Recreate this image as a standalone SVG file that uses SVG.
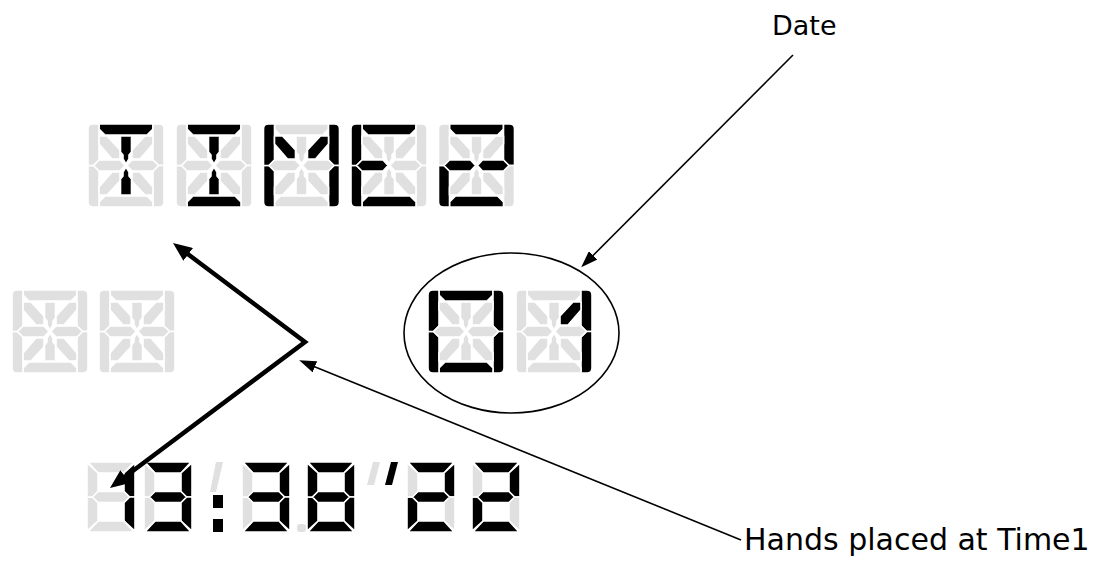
<svg xmlns="http://www.w3.org/2000/svg" xmlns:xlink="http://www.w3.org/1999/xlink" width="1097" height="566" viewBox="0 0 1097 566">
<style>
.on{fill:#000}
.off{fill:#e0e0e0}
use{stroke:#fff;stroke-width:1.6;stroke-linejoin:round}
.lbl{font-family:"DejaVu Sans",sans-serif;fill:#000}
.thin{stroke:#000;stroke-width:1.6;fill:none}
.bold{stroke:#000;stroke-width:4.5;fill:none;stroke-linejoin:miter}
</style>
<defs>
<path id="a" d="M11,0 L65,0 L65,5 L59,11 L17,11 L11,5 Z"/>
<path id="d" d="M11,83 L65,83 L65,78 L59,72 L17,72 L11,78 Z"/>
<path id="f" d="M0,5 Q0,0 5,0 L11,0 L11,36 L5.5,41.5 L0,41.5 Z"/>
<path id="e" d="M0,41.5 L5.5,41.5 L11,47 L11,83 L5,83 Q0,83 0,78 Z"/>
<path id="b" d="M76,5 Q76,0 71,0 L65,0 L65,36 L70.5,41.5 L76,41.5 Z"/>
<path id="c" d="M76,41.5 L70.5,41.5 L65,47 L65,83 L71,83 Q76,83 76,78 Z"/>
<path id="g1" d="M5.5,41.5 L11,36 L32,36 L37,41.5 L32,47 L11,47 Z"/>
<path id="g2" d="M70.5,41.5 L65,36 L44,36 L39,41.5 L44,47 L65,47 Z"/>
<path id="ct" d="M32.5,12 L43.5,12 L43.5,28 L41,31 L41,35 L38,40 L35,35 L35,31 L32.5,28 Z"/>
<path id="cb" d="M32.5,71 L43.5,71 L43.5,55 L41,52 L41,48 L38,43 L35,48 L35,52 L32.5,55 Z"/>
<path id="ul" d="M11,12 L19,12 L32,26 L32,35 L24,35 L11,20 Z"/>
<path id="ur" d="M65,12 L57,12 L44,26 L44,35 L52,35 L65,20 Z"/>
<path id="ll" d="M11,71 L19,71 L32,57 L32,48 L24,48 L11,63 Z"/>
<path id="lr" d="M65,71 L57,71 L44,57 L44,48 L52,48 L65,63 Z"/>
<path id="sa" d="M1,0 L47,0 L37,11 L11,11 Z"/>
<path id="sf" d="M0,1 L11,11 L11,29.5 L5.5,35 L0,35 Z"/>
<path id="sb" d="M48,1 L48,35 L42.5,35 L37,29.5 L37,11 Z"/>
<path id="sg" d="M5.5,35 L11,29.5 L37,29.5 L42.5,35 L37,40.5 L11,40.5 Z"/>
<path id="se" d="M0,35 L5.5,35 L11,40.5 L11,59 L0,69 Z"/>
<path id="sc" d="M48,35 L48,69 L37,59 L37,40.5 L42.5,35 Z"/>
<path id="sd" d="M1,70 L11,59 L37,59 L47,70 Z"/>
<marker id="hb" markerUnits="userSpaceOnUse" markerWidth="20" markerHeight="16" refX="1" refY="8" orient="auto-start-reverse"><path d="M0,0 L19,8 L0,16 Z" fill="#000"/></marker>
<marker id="ht" markerUnits="userSpaceOnUse" markerWidth="18" markerHeight="12" refX="1" refY="6" orient="auto"><path d="M0,0 L17,6 L0,12 Z" fill="#000"/></marker>
</defs>

<g id="time-label">
<g transform="translate(88,124)"><use href="#a" class="on"/><use href="#b" class="off"/><use href="#c" class="off"/><use href="#d" class="off"/><use href="#e" class="off"/><use href="#f" class="off"/><use href="#g1" class="off"/><use href="#g2" class="off"/><use href="#ct" class="on"/><use href="#cb" class="on"/><use href="#ul" class="off"/><use href="#ur" class="off"/><use href="#ll" class="off"/><use href="#lr" class="off"/></g>
<g transform="translate(176,124)"><use href="#a" class="on"/><use href="#b" class="off"/><use href="#c" class="off"/><use href="#d" class="on"/><use href="#e" class="off"/><use href="#f" class="off"/><use href="#g1" class="off"/><use href="#g2" class="off"/><use href="#ct" class="on"/><use href="#cb" class="on"/><use href="#ul" class="off"/><use href="#ur" class="off"/><use href="#ll" class="off"/><use href="#lr" class="off"/></g>
<g transform="translate(263.5,124)"><use href="#a" class="off"/><use href="#b" class="on"/><use href="#c" class="on"/><use href="#d" class="off"/><use href="#e" class="on"/><use href="#f" class="on"/><use href="#g1" class="off"/><use href="#g2" class="off"/><use href="#ct" class="off"/><use href="#cb" class="off"/><use href="#ul" class="on"/><use href="#ur" class="on"/><use href="#ll" class="off"/><use href="#lr" class="off"/></g>
<g transform="translate(351,124)"><use href="#a" class="on"/><use href="#b" class="off"/><use href="#c" class="off"/><use href="#d" class="on"/><use href="#e" class="on"/><use href="#f" class="on"/><use href="#g1" class="on"/><use href="#g2" class="off"/><use href="#ct" class="off"/><use href="#cb" class="off"/><use href="#ul" class="off"/><use href="#ur" class="off"/><use href="#ll" class="off"/><use href="#lr" class="off"/></g>
<g transform="translate(438.5,124)"><use href="#a" class="on"/><use href="#b" class="on"/><use href="#c" class="off"/><use href="#d" class="on"/><use href="#e" class="on"/><use href="#f" class="off"/><use href="#g1" class="on"/><use href="#g2" class="on"/><use href="#ct" class="off"/><use href="#cb" class="off"/><use href="#ul" class="off"/><use href="#ur" class="off"/><use href="#ll" class="off"/><use href="#lr" class="off"/></g>
</g>

<g id="blank-digits">
<g transform="translate(12,290)"><use href="#a" class="off"/><use href="#b" class="off"/><use href="#c" class="off"/><use href="#d" class="off"/><use href="#e" class="off"/><use href="#f" class="off"/><use href="#g1" class="off"/><use href="#g2" class="off"/><use href="#ct" class="off"/><use href="#cb" class="off"/><use href="#ul" class="off"/><use href="#ur" class="off"/><use href="#ll" class="off"/><use href="#lr" class="off"/></g>
<g transform="translate(99,290)"><use href="#a" class="off"/><use href="#b" class="off"/><use href="#c" class="off"/><use href="#d" class="off"/><use href="#e" class="off"/><use href="#f" class="off"/><use href="#g1" class="off"/><use href="#g2" class="off"/><use href="#ct" class="off"/><use href="#cb" class="off"/><use href="#ul" class="off"/><use href="#ur" class="off"/><use href="#ll" class="off"/><use href="#lr" class="off"/></g>
</g>

<g id="date-display">
<ellipse cx="511.5" cy="333" rx="107.5" ry="80" fill="none" stroke="#000" stroke-width="1.6"/>
<g transform="translate(428,290)"><use href="#a" class="on"/><use href="#b" class="on"/><use href="#c" class="on"/><use href="#d" class="on"/><use href="#e" class="on"/><use href="#f" class="on"/><use href="#g1" class="off"/><use href="#g2" class="off"/><use href="#ct" class="off"/><use href="#cb" class="off"/><use href="#ul" class="off"/><use href="#ur" class="off"/><use href="#ll" class="off"/><use href="#lr" class="off"/></g>
<g transform="translate(516,290)"><use href="#a" class="off"/><use href="#b" class="on"/><use href="#c" class="on"/><use href="#d" class="off"/><use href="#e" class="off"/><use href="#f" class="off"/><use href="#g1" class="off"/><use href="#g2" class="off"/><use href="#ct" class="off"/><use href="#cb" class="off"/><use href="#ul" class="off"/><use href="#ur" class="on"/><use href="#ll" class="off"/><use href="#lr" class="off"/></g>
</g>

<g id="time-display">
<g transform="translate(87,462)"><use href="#sa" class="off"/><use href="#sb" class="on"/><use href="#sc" class="on"/><use href="#sd" class="off"/><use href="#se" class="off"/><use href="#sf" class="off"/><use href="#sg" class="off"/></g>
<g transform="translate(144,462)"><use href="#sa" class="on"/><use href="#sb" class="on"/><use href="#sc" class="on"/><use href="#sd" class="on"/><use href="#se" class="off"/><use href="#sf" class="off"/><use href="#sg" class="on"/></g>
<path d="M216,462 L223,462 L216,492 L210,492 Z" class="off"/>
<rect x="213" y="495" width="10" height="13" class="on"/>
<rect x="213" y="519" width="10" height="13" class="on"/>
<g transform="translate(242,462)"><use href="#sa" class="on"/><use href="#sb" class="on"/><use href="#sc" class="on"/><use href="#sd" class="on"/><use href="#se" class="off"/><use href="#sf" class="off"/><use href="#sg" class="on"/></g>
<rect x="297" y="524" width="9" height="8" rx="3" class="off"/>
<g transform="translate(307,462)"><use href="#sa" class="on"/><use href="#sb" class="on"/><use href="#sc" class="on"/><use href="#sd" class="on"/><use href="#se" class="on"/><use href="#sf" class="on"/><use href="#sg" class="on"/></g>
<path d="M373,462 L380,462 L374,485 L367,485 Z" class="off"/>
<path d="M391,462 L398,462 L392,485 L385,485 Z" class="on"/>
<g transform="translate(407,462)"><use href="#sa" class="on"/><use href="#sb" class="on"/><use href="#sc" class="off"/><use href="#sd" class="on"/><use href="#se" class="on"/><use href="#sf" class="off"/><use href="#sg" class="on"/></g>
<g transform="translate(472,462)"><use href="#sa" class="on"/><use href="#sb" class="on"/><use href="#sc" class="off"/><use href="#sd" class="on"/><use href="#se" class="on"/><use href="#sf" class="off"/><use href="#sg" class="on"/></g>
</g>

<g id="label-date"><text class="lbl" x="772" y="35" font-size="27">Date</text></g>
<g id="label-hands"><text class="lbl" x="744" y="550" font-size="30">Hands placed at Time1</text></g>

<g id="connectors">
<line class="thin" x1="793" y1="55" x2="592.5" y2="256" marker-end="url(#ht)"/>
<line class="thin" x1="741" y1="540" x2="314" y2="366.4" marker-end="url(#ht)"/>
<polyline class="bold" points="187.4,253.8 305,342 124.4,477.2" marker-start="url(#hb)" marker-end="url(#hb)"/>
</g>
</svg>
